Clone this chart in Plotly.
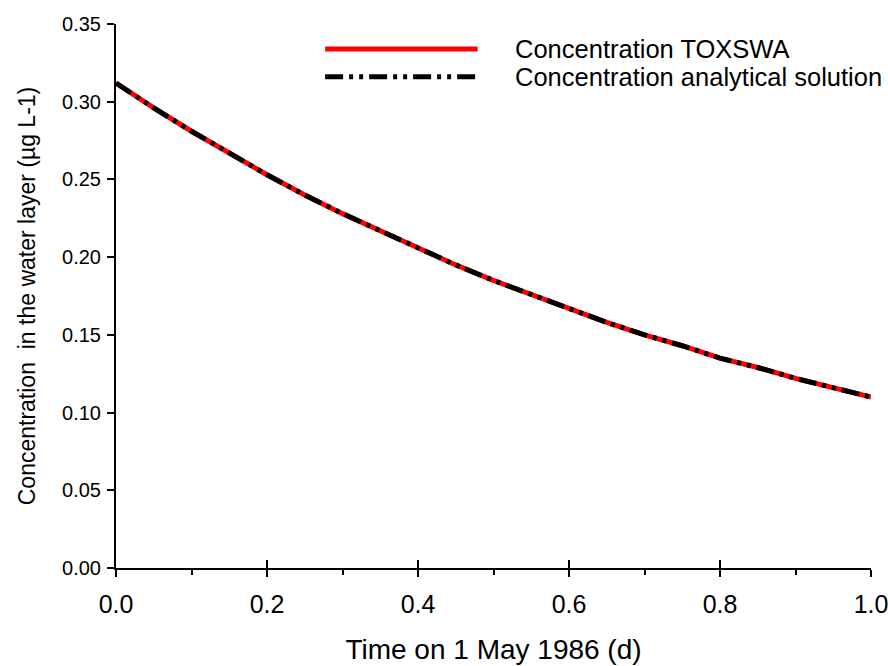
import plotly.graph_objects as go

time_d = [0.0, 0.05, 0.1, 0.15, 0.2, 0.25, 0.3, 0.35, 0.4, 0.45, 0.5,
          0.55, 0.6, 0.65, 0.7, 0.75, 0.8, 0.85, 0.9, 0.95, 1.0]
conc_toxswa = [0.312, 0.296, 0.281, 0.267, 0.253, 0.240, 0.228, 0.217, 0.206, 0.195, 0.185,
               0.176, 0.167, 0.158, 0.150, 0.143, 0.135, 0.129, 0.122, 0.116, 0.110]
conc_analytical = [0.312, 0.296, 0.281, 0.267, 0.253, 0.240, 0.228, 0.217, 0.206, 0.195, 0.185,
                   0.176, 0.167, 0.158, 0.150, 0.143, 0.135, 0.129, 0.122, 0.116, 0.110]
x_ticks = [0.0, 0.2, 0.4, 0.6, 0.8, 1.0]
x_tick_labels = ["0.0", "0.2", "0.4", "0.6", "0.8", "1.0"]
x_minor_ticks = [0.1, 0.3, 0.5, 0.7, 0.9]
y_ticks = [0.0, 0.05, 0.1, 0.15, 0.2, 0.25, 0.3, 0.35]
y_tick_labels = ["0.00", "0.05", "0.10", "0.15", "0.20", "0.25", "0.30", "0.35"]
series_names = ["Concentration TOXSWA", "Concentration analytical solution"]

DASH = "18px,6px,4px,6px,4px,6px"
FONT = "Liberation Sans, Arial, sans-serif"

fig = go.Figure()
fig.add_trace(go.Scatter(x=time_d, y=conc_toxswa, mode="lines", name=series_names[0],
                         line=dict(color="#ff0000", width=5), showlegend=False))
fig.add_trace(go.Scatter(x=time_d, y=conc_analytical, mode="lines", name=series_names[1],
                         line=dict(color="#000000", width=5, dash=DASH), showlegend=False))
# invisible trace to activate the overlay axis used for crossing major ticks
fig.add_trace(go.Scatter(x=[0, 1], y=[0, 0], xaxis="x2", mode="lines",
                         line=dict(width=0), hoverinfo="skip", showlegend=False))

fig.update_layout(
    width=888, height=666,
    margin=dict(l=116, r=17, t=24, b=98),
    paper_bgcolor="white", plot_bgcolor="white",
    font=dict(family=FONT, color="black"),
    xaxis=dict(range=[0, 1], tickvals=x_ticks, ticktext=x_tick_labels, automargin=False,
               ticklabeloverflow="allow",
               showgrid=False, zeroline=False, showline=True, linecolor="black", linewidth=2,
               ticks="outside", ticklen=7, tickwidth=2, tickcolor="black",
               tickfont=dict(size=25, family=FONT), ticklabelstandoff=6,
               minor=dict(tickvals=x_minor_ticks, ticks="outside", ticklen=5,
                          tickwidth=2, tickcolor="black", showgrid=False),
               title=dict(text="Time on 1 May 1986 (d)", font=dict(size=28, family=FONT), standoff=22)),
    xaxis2=dict(range=[0, 1], overlaying="x", side="bottom", anchor="y", automargin=False,
                tickvals=x_ticks, showticklabels=False, ticks="inside", ticklen=8,
                tickwidth=2, tickcolor="black", showgrid=False, zeroline=False, showline=False),
    yaxis=dict(range=[0, 0.35], tickvals=y_ticks, ticktext=y_tick_labels, automargin=False,
               showgrid=False, zeroline=False, showline=True, linecolor="black", linewidth=2,
               ticks="outside", ticklen=7, tickwidth=2, tickcolor="black",
               tickfont=dict(size=20, family=FONT), ticklabelstandoff=2,
               title=dict(text="Concentration  in the water layer (µg L-1)",
                          font=dict(size=23, family=FONT), standoff=20)),
)

# manual legend
legend_rows = [(series_names[0], "#ff0000", "solid", 0.954), (series_names[1], "#000000", DASH, 0.903)]
for name, color, dash, yp in legend_rows:
    fig.add_shape(type="line", xref="paper", yref="paper", x0=0.277, x1=0.479, y0=yp, y1=yp,
                  line=dict(color=color, width=5, dash=dash))
    fig.add_annotation(xref="paper", yref="paper", x=0.526, y=yp, text=name, showarrow=False,
                       xanchor="left", yanchor="middle", font=dict(size=25.5, family=FONT, color="black"))

fig.write_html("out.html")
